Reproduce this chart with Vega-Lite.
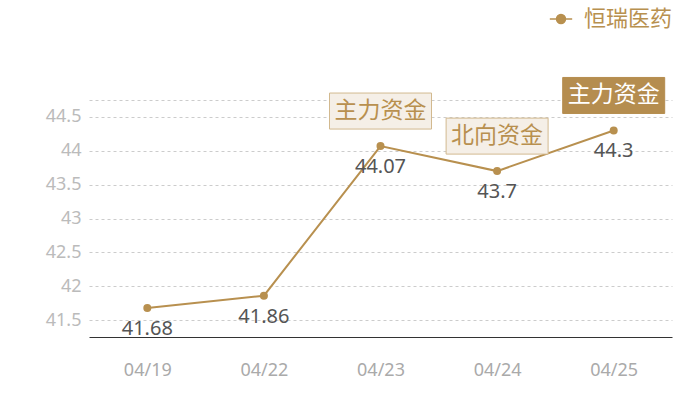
{
  "$schema": "https://vega.github.io/schema/vega-lite/v6.json",
  "autosize": {"type": "none"},
  "width": 583,
  "height": 237,
  "padding": {"left": 89, "top": 100, "right": 28, "bottom": 63},
  "background": "#ffffff",
  "config": {
    "font": "Noto Sans CJK SC",
    "view": {"stroke": null}
  },
  "data": {
    "values": [
      {"date": "04/19", "value": 41.68, "name": "恒瑞医药", "tag": null, "style": null},
      {"date": "04/22", "value": 41.86, "name": "恒瑞医药", "tag": null, "style": null},
      {"date": "04/23", "value": 44.07, "name": "恒瑞医药", "tag": "主力资金", "style": "light"},
      {"date": "04/24", "value": 43.7, "name": "恒瑞医药", "tag": "北向资金", "style": "light"},
      {"date": "04/25", "value": 44.3, "name": "恒瑞医药", "tag": "主力资金", "style": "dark"}
    ]
  },
  "encoding": {
    "x": {
      "field": "date", "type": "nominal", "sort": null,
      "scale": {"type": "point", "padding": 0.5},
      "axis": {
        "title": null, "labelAngle": 0, "ticks": false, "grid": false,
        "domain": true, "domainColor": "#333333", "domainWidth": 1,
        "labelColor": "#aaaaaa", "labelFontSize": 18, "labelPadding": 24,
        "labelFont": "Noto Sans"
      }
    },
    "y": {
      "field": "value", "type": "quantitative",
      "scale": {"domain": [41.25, 44.75], "nice": false, "zero": false},
      "axis": {
        "title": null, "domain": false, "ticks": false, "grid": true,
        "values": [41.5, 42, 42.5, 43, 43.5, 44, 44.5, 44.75],
        "labelExpr": "datum.value > 44.6 ? '' : format(datum.value, '~g')",
        "gridColor": "#cccccc", "gridDash": [3, 3], "gridWidth": 1,
        "labelColor": "#bbbbbb", "labelFontSize": 18, "labelPadding": 8,
        "labelFont": "Noto Sans"
      }
    }
  },
  "layer": [
    {
      "mark": {"type": "line", "strokeWidth": 2},
      "encoding": {
        "color": {
          "field": "name", "type": "nominal",
          "scale": {"range": ["#b8904f"]},
          "legend": {
            "title": null, "orient": "none", "legendX": 460, "legendY": -93,
            "symbolType": "M-1,0H1M0.4,0A0.4,0.4,0,1,1,-0.4,0A0.4,0.4,0,1,1,0.4,0",
            "symbolSize": 500, "symbolStrokeWidth": 1.5,
            "labelFontSize": 22, "labelColor": "#b8904f", "labelOffset": 11,
            "encode": {"symbols": {"update": {"fill": {"value": "#b8904f"}, "stroke": {"value": "#b8904f"}}}}
          }
        }
      }
    },
    {
      "mark": {"type": "point", "filled": true, "size": 64, "opacity": 1, "color": "#b8904f"},
      "encoding": {}
    },
    {
      "mark": {"type": "text", "dy": 21, "baseline": "middle", "fontSize": 20, "color": "#555555", "font": "Noto Sans"},
      "encoding": {"text": {"field": "value", "type": "quantitative"}}
    },
    {
      "transform": [{"filter": "datum.style == 'light'"}],
      "mark": {
        "type": "point", "shape": "M-1,-0.353H1V0.353H-1Z", "size": 10404,
        "filled": true, "opacity": 1, "yOffset": -35, "strokeWidth": 1,
        "fill": "#f5efe7", "stroke": "#d2b98f"
      },
      "encoding": {}
    },
    {
      "transform": [{"filter": "datum.style == 'dark'"}],
      "mark": {
        "type": "point", "shape": "M-1,-0.353H1V0.353H-1Z", "size": 10404,
        "filled": true, "opacity": 1, "yOffset": -35, "strokeWidth": 1,
        "fill": "#b58d4f", "stroke": "#b58d4f"
      },
      "encoding": {}
    },
    {
      "transform": [{"filter": "datum.style == 'light'"}],
      "mark": {"type": "text", "dy": -35, "baseline": "middle", "fontSize": 23, "color": "#b8904f"},
      "encoding": {"text": {"field": "tag"}}
    },
    {
      "transform": [{"filter": "datum.style == 'dark'"}],
      "mark": {"type": "text", "dy": -35, "baseline": "middle", "fontSize": 23, "color": "#ffffff"},
      "encoding": {"text": {"field": "tag"}}
    }
  ]
}
